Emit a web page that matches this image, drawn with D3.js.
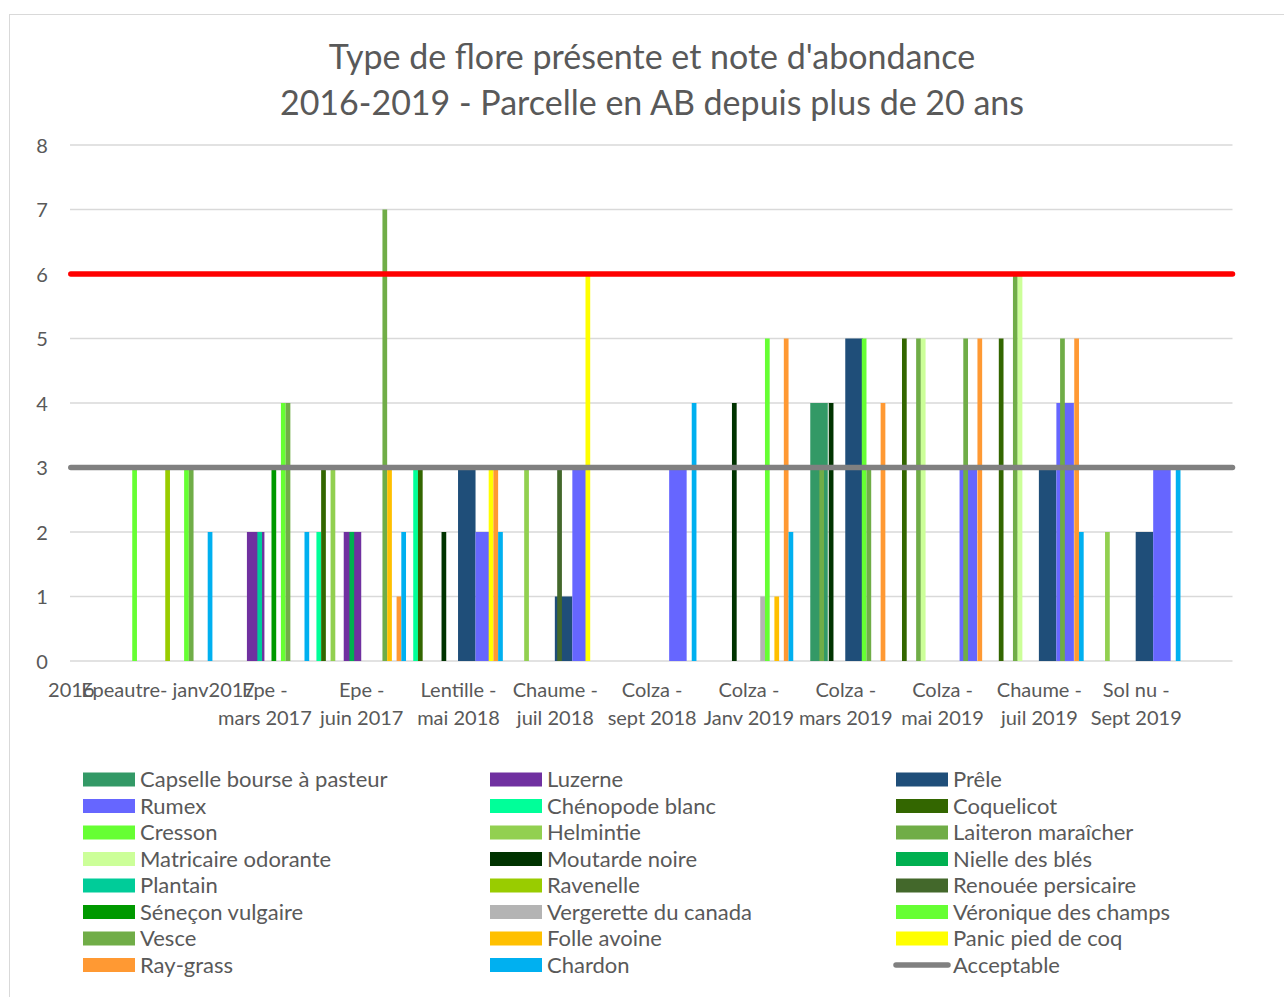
<!DOCTYPE html>
<html lang="fr">
<head>
<meta charset="utf-8">
<title>Type de flore présente et note d'abondance</title>
<script src="https://cdn.jsdelivr.net/npm/d3@7"></script>
<style>
body { margin: 0; background: #fff; }
text { font-family: Lato, "Noto Sans", sans-serif; fill: #595959; }
.grid line { stroke: #d9d9d9; stroke-width: 1.5px; }
</style>
</head>
<body>
<div id="chart"></div>
<script>
"use strict";

// categories (first and last are empty slots of the original axis)
var categories = ["2016", "Epeautre- janv2017", "Epe - mars 2017", "Epe - juin 2017",
  "Lentille - mai 2018", "Chaume - juil 2018", "Colza - sept 2018", "Colza - Janv 2019",
  "Colza - mars 2019", "Colza - mai 2019", "Chaume - juil 2019", "Sol nu - Sept 2019", ""];

var seriesNames = ["Capselle bourse à pasteur", "Luzerne", "Prêle", "Rumex",
  "Chénopode blanc", "Coquelicot", "Cresson", "Helmintie", "Laiteron maraîcher",
  "Matricaire odorante", "Moutarde noire", "Nielle des blés", "Plantain", "Ravenelle",
  "Renouée persicaire", "Séneçon vulgaire", "Vergerette du canada", "Véronique des champs",
  "Vesce", "Folle avoine", "Panic pied de coq", "Ray-grass", "Chardon"];

var seriesColors = ["#339966", "#7030a0", "#1f4e79", "#6666ff",
  "#00ff99", "#336600", "#66ff33", "#92d050", "#70ad47",
  "#ccff99", "#003300", "#00b050", "#00cc99", "#99cc00",
  "#43682b", "#009900", "#b4b4b4", "#66ff33",
  "#70ad47", "#ffc000", "#ffff00", "#ff9933", "#00b0f0"];

// abundance notes, one row per species, one value per category
var notes = [
  [0,0,0,0,0,0,0,0,4,0,0,0,0], // Capselle
  [0,0,2,2,0,0,0,0,0,0,0,0,0], // Luzerne
  [0,0,0,0,3,1,0,0,5,0,3,2,0], // Prêle
  [0,0,0,0,2,3,3,0,0,3,4,3,0], // Rumex
  [0,0,0,2,3,0,0,0,0,0,0,0,0], // Chénopode
  [0,0,0,3,3,0,0,0,0,5,5,0,0], // Coquelicot
  [0,3,0,0,0,0,0,0,0,0,0,0,0], // Cresson
  [0,0,0,3,0,3,0,0,0,0,0,2,0], // Helmintie
  [0,0,0,0,0,0,0,0,3,5,6,0,0], // Laiteron
  [0,0,0,0,0,0,0,0,0,5,6,0,0], // Matricaire
  [0,0,0,0,2,0,0,4,4,0,0,0,0], // Moutarde
  [0,0,0,2,0,0,0,0,0,0,0,0,0], // Nielle
  [0,0,2,0,0,0,0,0,0,0,0,0,0], // Plantain
  [0,3,0,0,0,0,0,0,0,0,0,0,0], // Ravenelle
  [0,0,0,0,0,3,0,0,0,0,0,0,0], // Renouée
  [0,0,3,0,0,0,0,0,0,0,0,0,0], // Séneçon
  [0,0,0,0,0,0,0,1,0,0,0,0,0], // Vergerette
  [0,3,4,0,0,0,0,5,5,0,0,0,0], // Véronique
  [0,3,4,7,0,0,0,0,3,5,5,0,0], // Vesce
  [0,0,0,3,0,0,0,1,0,0,0,0,0], // Folle avoine
  [0,0,0,0,3,6,0,0,0,0,0,0,0], // Panic
  [0,0,0,1,3,0,0,5,4,5,5,0,0], // Ray-grass
  [0,2,2,2,2,0,4,2,0,0,2,3,0]  // Chardon
];

// the first four species sit on a wider set of bars behind the others
var wideGroup = seriesNames.slice(0, 4);
var narrowGroup = seriesNames.slice(4);

var acceptable = 3;
var limit = 6;
var yTicks = [0, 1, 2, 3, 4, 5, 6, 7, 8];
var titleLines = ["Type de flore présente et note d'abondance",
  "2016-2019 - Parcelle en AB depuis plus de 20 ans"];

var width = 1284, height = 997;
var plotLeft = 70.8, plotRight = 1232.5, plotTop = 145, plotBottom = 661;

var svg = d3.select("#chart").append("svg")
    .attr("width", width)
    .attr("height", height);

svg.append("rect")
    .attr("x", 9.5).attr("y", 14.5)
    .attr("width", width).attr("height", height)
    .attr("fill", "#fff")
    .attr("stroke", "#d9d9d9");

var x = d3.scalePoint().domain(categories).range([plotLeft, plotRight]);
var y = d3.scaleLinear().domain([0, 8]).range([plotBottom, plotTop]);
var xWide = d3.scaleBand().domain(wideGroup).range([-35, 35]);
var xNarrow = d3.scaleBand().domain(narrowGroup).range([-44.8, 44.8]);

// title
svg.append("g").selectAll("text")
    .data(titleLines)
    .join("text")
    .attr("x", 652)
    .attr("y", function(d, i) { return 69 + i * 46; })
    .attr("text-anchor", "middle")
    .style("font-size", "34px")
    .text(function(d) { return d; });

// grid
svg.append("g").attr("class", "grid")
    .selectAll("line")
    .data(yTicks)
    .join("line")
    .attr("x1", 70).attr("x2", plotRight)
    .attr("y1", function(d) { return y(d); })
    .attr("y2", function(d) { return y(d); });

var yAxis = svg.append("g")
    .attr("transform", "translate(50,0)")
    .call(d3.axisLeft(y).tickValues(yTicks).tickSize(0).tickPadding(0));
yAxis.select(".domain").remove();
yAxis.selectAll("text")
    .attr("x", -8)
    .attr("dy", "0.35em")
    .attr("text-anchor", "middle")
    .style("font-size", "20px")
    .style("font-family", "Lato, sans-serif")
    .attr("fill", "#595959");

// category labels, wrapped on " - "
var xAxis = svg.append("g")
    .attr("transform", "translate(0," + plotBottom + ")")
    .call(d3.axisBottom(x).tickSize(0).tickPadding(0));
xAxis.select(".domain").remove();
xAxis.selectAll("text")
    .style("font-size", "20px")
    .style("font-family", "Lato, sans-serif")
    .attr("fill", "#595959")
    .attr("y", 0)
    .attr("dy", null)
    .each(function(d) {
      var parts = d.split(" - ");
      var lines = parts.length > 1 ? [parts[0] + " -", parts.slice(1).join(" - ")] : [d];
      var t = d3.select(this).text(null);
      lines.forEach(function(l, i) {
        t.append("tspan").attr("x", 0).attr("y", 36 + i * 28).text(l);
      });
    });

// bars
svg.append("clipPath").attr("id", "plot")
  .append("rect")
    .attr("x", plotLeft).attr("y", 0)
    .attr("width", plotRight - plotLeft).attr("height", plotBottom);

var bars = svg.append("g").attr("clip-path", "url(#plot)");

function drawGroup(names, band) {
  names.forEach(function(name) {
    var k = seriesNames.indexOf(name);
    bars.append("g")
        .attr("fill", seriesColors[k])
      .selectAll("rect")
      .data(categories.map(function(c, i) { return {cat: c, v: notes[k][i]}; })
              .filter(function(d) { return d.v > 0; }))
      .join("rect")
        .attr("x", function(d) { return x(d.cat) + band(name); })
        .attr("width", band.bandwidth())
        .attr("y", function(d) { return y(d.v); })
        .attr("height", function(d) { return y(0) - y(d.v); });
  });
}
drawGroup(wideGroup, xWide);
drawGroup(narrowGroup, xNarrow);

// reference lines
svg.append("line")
    .attr("x1", plotLeft).attr("x2", plotRight)
    .attr("y1", y(limit)).attr("y2", y(limit))
    .attr("stroke", "#ff0000")
    .attr("stroke-width", 5.5)
    .attr("stroke-linecap", "round");

svg.append("line")
    .attr("x1", plotLeft).attr("x2", plotRight)
    .attr("y1", y(acceptable)).attr("y2", y(acceptable))
    .attr("stroke", "#808080")
    .attr("stroke-width", 5.5)
    .attr("stroke-linecap", "round");

// legend
var legendItems = seriesNames.map(function(n, i) { return {name: n, color: seriesColors[i], line: false}; });
legendItems.push({name: "Acceptable", color: "#808080", line: true});
var colX = [83, 490, 896];

var legend = svg.append("g").selectAll("g")
    .data(legendItems)
    .join("g")
    .attr("transform", function(d, i) {
      return "translate(" + colX[i % 3] + "," + (779.5 + Math.floor(i / 3) * 26.5) + ")";
    });

legend.filter(function(d) { return !d.line; })
  .append("rect")
    .attr("x", 0).attr("y", -7)
    .attr("width", 52).attr("height", 14)
    .attr("fill", function(d) { return d.color; });

legend.filter(function(d) { return d.line; })
  .append("line")
    .attr("x1", 0).attr("x2", 52)
    .attr("stroke", function(d) { return d.color; })
    .attr("stroke-width", 5.5)
    .attr("stroke-linecap", "round");

legend.append("text")
    .attr("x", 57)
    .attr("dy", "0.35em")
    .style("font-size", "22px")
    .text(function(d) { return d.name; });
</script>
</body>
</html>
